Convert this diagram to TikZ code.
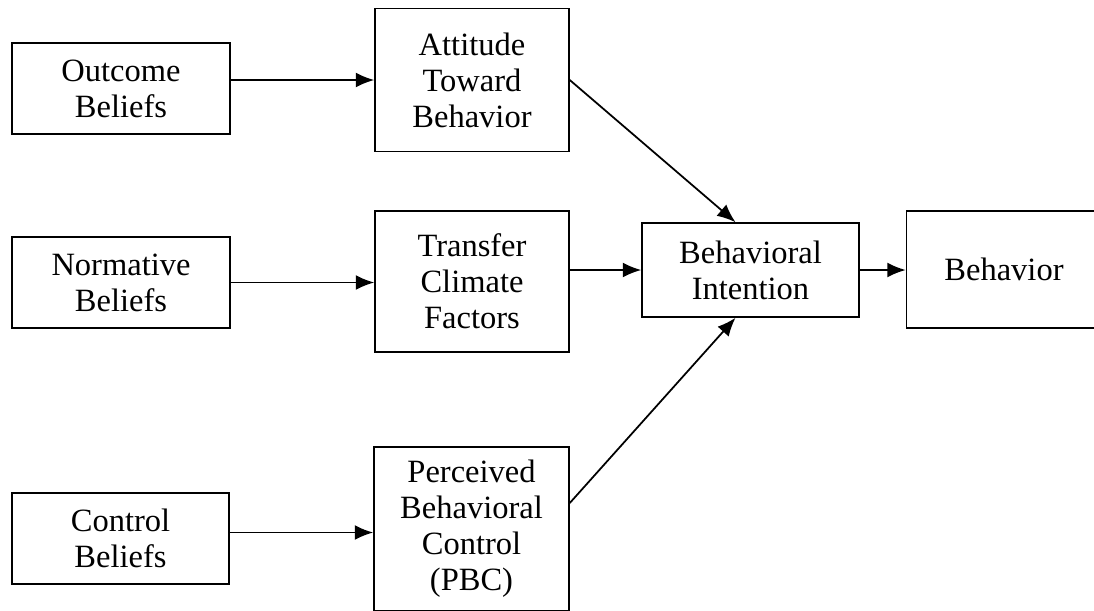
\documentclass[tikz,border=0pt]{standalone}
\usepackage{fontspec}
\setmainfont{Liberation Serif}
\usetikzlibrary{arrows.meta}

\begin{document}
\begin{tikzpicture}[>={Latex[length=10.5pt,width=8.5pt]}, x=0.02cm, y=-0.02cm,
		box/.style={draw, line width=0.9pt, align=center, inner sep=0pt,
				font=\fontsize{18.5}{20.5}\selectfont},
		link/.style={->, line width=1pt}]

		\useasboundingbox (0,0) rectangle (1094,610);
		\clip (0,0) rectangle (1094,610);

		% Переконання (ліва колонка)
		\node[box, minimum width=4.36cm, minimum height=1.82cm] (OB) at (121,88.5) {Outcome\\Beliefs};
		\node[box, minimum width=4.36cm, minimum height=1.82cm] (NB) at (121,282.5) {Normative\\Beliefs};
		\node[box, minimum width=4.34cm, minimum height=1.82cm] (CB) at (120.5,538.5) {Control\\Beliefs};

		% Середня колонка
		\node[box, minimum width=3.88cm, minimum height=2.86cm] (ATB) at (472,80) {Attitude\\Toward\\Behavior};
		\node[box, minimum width=3.88cm, minimum height=2.82cm] (TCF) at (472,281.5) {Transfer\\Climate\\Factors};
		\node[box, minimum width=3.9cm, minimum height=3.28cm] (PBC) at (471.5,529) {Perceived\\Behavioral\\Control\\(PBC)};

		% Намір і поведінка
		\node[box, minimum width=4.34cm, minimum height=1.88cm] (BI) at (750.5,270) {Behavioral\\Intention};
		\node[box, minimum width=3.9cm, minimum height=2.34cm] (BEH) at (1004,269.5) {Behavior};

		\draw[link] (ATB.west -| OB.east) -- (ATB.west);
		\draw[link] (NB.east) -- (NB.east -| TCF.west);
		\draw[link] ([yshift=0.12cm]CB.east) -- ([yshift=0.12cm]CB.east -| PBC.west);

		\draw[link] (ATB.east) -- ([xshift=-0.3cm]BI.north);
		\draw[link] (BI.west -| TCF.east) -- (BI.west);
		\draw[link] ([yshift=0.52cm]PBC.east) -- ([xshift=-0.3cm]BI.south);

		\draw[link] (BI.east) -- (BI.east -| BEH.west);
	\end{tikzpicture}
\end{document}
